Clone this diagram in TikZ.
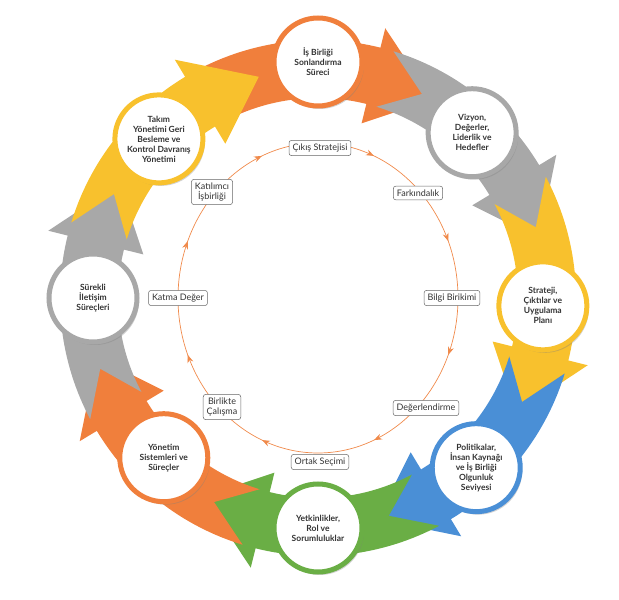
\documentclass[tikz,border=0pt]{standalone}
\usepackage{fontspec}
\setmainfont{Lato}
\usetikzlibrary{shadows,decorations.markings,arrows.meta}
\definecolor{cor}{HTML}{F07F3C}
\definecolor{cgr}{HTML}{A8A8A8}
\definecolor{cye}{HTML}{F8C12D}
\definecolor{cbl}{HTML}{4A8FD6}
\definecolor{cgn}{HTML}{6AAE45}
\definecolor{cln}{HTML}{F08A4B}
\begin{document}
\begin{tikzpicture}[x=1pt,y=1pt,
  big/.style={circle,draw=#1,line width=5pt,fill=white,minimum size=88pt,inner sep=0pt,align=center,
    font=\bfseries\fontsize{8.5}{10}\selectfont,text=black!80,drop shadow={opacity=0.35,shadow xshift=2pt,shadow yshift=-3pt}},
  lab/.style={draw=black!60,fill=white,rounded corners=2.5pt,align=center,font=\fontsize{9}{10}\selectfont,text=black!80,inner sep=3.5pt,line width=0.5pt}]
\useasboundingbox (0,0) rectangle (619,600);
\def\cx{318}\def\cy{302}
% bands
\foreach \t/\c in {90/cor,45/cgr,0/cye,-45/cbl,-90/cgn,-135/cor,180/cgr,135/cye}{
  \pgfmathsetmacro\ta{\t+28}\pgfmathsetmacro\tb{\t-14}\pgfmathsetmacro\tc{\t-30}\pgfmathsetmacro\tn{\t+18}
  \fill[\c] ([shift={(\cx,\cy)}]\ta:258) arc[start angle=\ta,end angle=\tb,radius=258]
    -- ([shift={(\cx,\cy)}]\tb:278) -- ([shift={(\cx,\cy)}]\tc:229) -- ([shift={(\cx,\cy)}]\tb:180)
    -- ([shift={(\cx,\cy)}]\tb:200) arc[start angle=\tb,end angle=\ta,radius=200]
    -- ([shift={(\cx,\cy)}]\tn:229) -- cycle;
}
\node[big=cor] (n1) at ([shift={(\cx,\cy)}]90:236) {İş Birliği\\Sonlandırma\\Süreci};
\node[big=cgr] (n2) at ([shift={(\cx,\cy)}]47:226) {Vizyon,\\Değerler,\\Liderlik ve\\Hedefler};
\node[big=cye] (n3) at ([shift={(\cx,\cy)}]-2:225) {Strateji,\\Çıktılar ve\\Uygulama\\Planı};
\node[big=cbl] (n4) at ([shift={(\cx,\cy)}]-47:232) {Politikalar,\\İnsan Kaynağı\\ve İş Birliği\\Olgunluk\\Seviyesi};
\node[big=cgn] (n5) at ([shift={(\cx,\cy)}]-90:230) {Yetkinlikler,\\Rol ve\\Sorumluluklar};
\node[big=cor] (n6) at ([shift={(\cx,\cy)}]-134:222) {Yönetim\\Sistemleri ve\\Süreçler};
\node[big=cgr] (n7) at ([shift={(\cx,\cy)}]180:225) {Sürekli\\İletişim\\Süreçleri};
\node[big=cye] (n8) at ([shift={(\cx,\cy)}]135:225) {Takım\\Yönetimi Geri\\Besleme ve\\Kontrol Davranış\\Yönetimi};
% inner ring
\draw[cln,line width=0.7pt,postaction={decorate},decoration={markings,
  mark=between positions 0.0625 and 1 step 0.125 with {\arrow{Stealth[length=8pt,width=6pt]}}}]
  (\cx,\cy+155) arc[start angle=90,end angle=-270,x radius=140,y radius=155];
\node[lab] (i1) at (320,452) {Çıkış Stratejisi};
\node[lab] (i2) at (418,407) {Farkındalık};
\node[lab] (i3) at (452,302) {Bilgi Birikimi};
\node[lab] (i4) at (426,192) {Değerlendirme};
\node[lab] (i5) at (320,138) {Ortak Seçimi};
\node[lab] (i6) at (222,193) {Birlikte\\Çalışma};
\node[lab] (i7) at (178,302) {Katma Değer};
\node[lab] (i8) at (212,408) {Katılımcı\\İşbirliği};
\end{tikzpicture}
\end{document}
